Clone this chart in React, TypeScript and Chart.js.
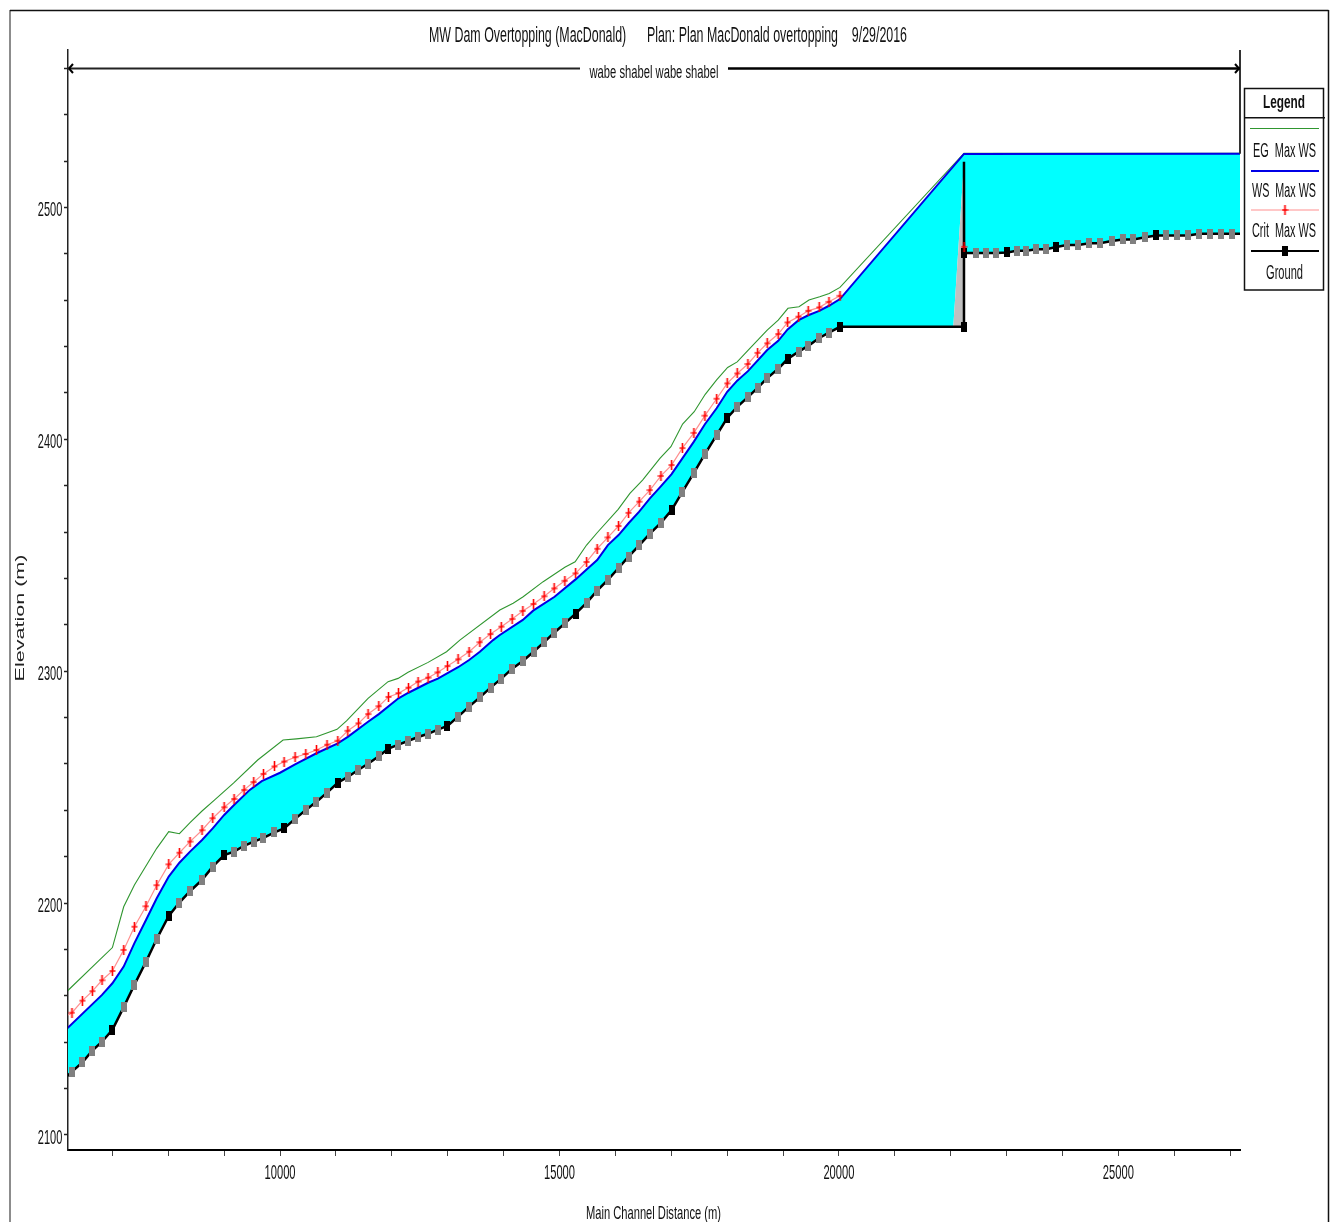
import React, { useEffect, useRef } from "react";
import { Chart, registerables } from "chart.js";

Chart.register(...registerables);

const groundStations = [6092, 6277, 6463, 6642, 6814, 7000, 7202, 7394, 7601, 7793, 8008, 8199, 8389, 8604, 8795, 9000, 9177, 9356, 9529, 9703, 9900, 10072, 10269, 10460, 10652, 10841, 11033, 11212, 11403, 11575, 11767, 11940, 12119, 12298, 12470, 12649, 12823, 12996, 13186, 13383, 13575, 13766, 13959, 14153, 14344, 14536, 14726, 14905, 15096, 15288, 15485, 15674, 15866, 16057, 16236, 16426, 16618, 16815, 17006, 17199, 17405, 17602, 17812, 18001, 18180, 18372, 18545, 18717, 18914, 19082, 19279, 19451, 19648, 19822, 20019, 22238, 22238, 22240, 22448, 22637, 22816, 23008, 23182, 23353, 23532, 23711, 23890, 24077, 24284, 24481, 24673, 24882, 25079, 25269, 25484, 25670, 25859, 26056, 26248, 26450, 26647, 26844, 27041, 27400];
const groundElevations = [2123.3, 2127.3, 2131.3, 2136.4, 2140.2, 2145.3, 2155.1, 2164.8, 2174.7, 2184.5, 2194.4, 2200.2, 2205.1, 2210, 2215.7, 2220.7, 2222.2, 2224.7, 2226.5, 2228.1, 2230.5, 2232.2, 2236.3, 2240.1, 2243.7, 2247.6, 2251.9, 2254.4, 2257.5, 2260.1, 2263.3, 2266.6, 2268.3, 2270, 2271.6, 2273, 2274.8, 2276.4, 2280.4, 2284.7, 2288.7, 2292.9, 2296.8, 2301.1, 2304.4, 2308.4, 2312.5, 2316.6, 2320.6, 2324.8, 2329.5, 2334.7, 2339.4, 2344.5, 2349.4, 2354.3, 2359.3, 2364, 2369.5, 2377.3, 2385.5, 2393.6, 2401.8, 2409.2, 2414, 2418.2, 2422.2, 2426.4, 2430.4, 2434.6, 2437.8, 2440.3, 2443.7, 2446, 2448.5, 2448.5, 2519.7, 2480.4, 2480.4, 2480.4, 2480.4, 2480.6, 2481.3, 2481.3, 2482, 2482, 2482.9, 2483.8, 2483.8, 2484.6, 2484.6, 2485.5, 2486.2, 2486.2, 2487.1, 2487.9, 2487.9, 2487.9, 2487.9, 2488.6, 2488.6, 2488.6, 2488.6, 2488.6];
const blackMarkerStations = [7000, 8008, 9000, 10072, 11033, 11940, 12996, 15288, 17006, 18001, 19082, 20019, 22238, 22240, 23008, 23890, 25670];
const damTopElevation = 2519.7;
const damToeStation = 22047;
const damStation = 22238;
const damToeElevation = 2448.5;

const critElevations = [2150, 2152.7, 2157.9, 2162, 2166.7, 2170.7, 2179.8, 2189.8, 2198.6, 2207.7, 2216.7, 2221.7, 2226.5, 2231.4, 2236.6, 2241.3, 2244.9, 2248.8, 2252.2, 2255.7, 2258.9, 2261, 2262.9, 2264.3, 2266, 2268.3, 2270, 2274.3, 2277.5, 2281.5, 2284.9, 2288.9, 2290.5, 2292.9, 2295.5, 2297.2, 2299.5, 2302.2, 2305.1, 2308.4, 2312.5, 2316, 2319.2, 2322.5, 2326, 2329, 2332.3, 2335.7, 2339, 2342.2, 2347.1, 2352.8, 2357.7, 2362.6, 2368.3, 2373.1, 2378.1, 2384.2, 2388.9, 2396.2, 2402.8, 2410.2, 2417.5, 2424.1, 2428.4, 2432.5, 2437.3, 2441.4, 2445.4, 2450.4, 2452.9, 2455.4, 2456.9, 2459.3, 2461.9];
const critDamStation = 22240;
const critDamElevation = 2483;

const wsStations = [6092, 6814, 7000, 7202, 7394, 7601, 7793, 8008, 8199, 8389, 8604, 8795, 9000, 9177, 9458, 9672, 10000, 10269, 10652, 11033, 11212, 11575, 11767, 12119, 12298, 12649, 12823, 13186, 13383, 13575, 13812, 13933, 14344, 14529, 14912, 15293, 15485, 15674, 15866, 16057, 16236, 16426, 16618, 16797, 17006, 17199, 17405, 17602, 17812, 18001, 18180, 18372, 18717, 18914, 19082, 19279, 19451, 19648, 19822, 20019, 22238, 27400];
const wsElevations = [2143.6, 2160.4, 2165.4, 2172.6, 2182.7, 2192.7, 2202.1, 2211.4, 2217.4, 2222.2, 2227.2, 2232.2, 2238, 2242.3, 2248.8, 2252.6, 2256.2, 2259.8, 2264.6, 2268.9, 2271.7, 2278.2, 2281.5, 2288.3, 2290.7, 2295, 2296.8, 2301.7, 2304.8, 2308.4, 2313.4, 2315.6, 2322.1, 2326.1, 2332.1, 2339.7, 2343.9, 2347.9, 2354.4, 2358.7, 2363.8, 2368.8, 2374.5, 2379.3, 2385, 2391.8, 2399, 2406.5, 2413.4, 2420.5, 2425.3, 2429.4, 2438.5, 2442.5, 2447.4, 2451.4, 2453.5, 2455.4, 2457.6, 2460.5, 2523.1, 2523.2];

const egStations = [6092, 7000, 7202, 7394, 7793, 8008, 8199, 8389, 8604, 8830, 9171, 9600, 10054, 10294, 10652, 11020, 11189, 11575, 11933, 12112, 12291, 12649, 12979, 13217, 13933, 14171, 14350, 14708, 15096, 15280, 15485, 15674, 16050, 16260, 16487, 16797, 16994, 17203, 17411, 17608, 17812, 18009, 18180, 18377, 18717, 18914, 19088, 19285, 19464, 19656, 19827, 20019, 22238, 27400];
const egElevations = [2159.7, 2180.8, 2198.4, 2207.8, 2223.6, 2230.8, 2229.9, 2234.7, 2239.7, 2244.5, 2251.8, 2261.7, 2270.3, 2270.8, 2271.7, 2274.9, 2278.6, 2288.3, 2295.5, 2296.9, 2299.5, 2303.8, 2308.4, 2313.4, 2326.4, 2329.3, 2332.1, 2338.6, 2344.8, 2347.2, 2354.4, 2359.7, 2369.8, 2376.7, 2382.4, 2391.8, 2396.8, 2406.6, 2411.9, 2419.4, 2425.6, 2431, 2433.4, 2438.5, 2447.1, 2451.4, 2456.5, 2457.2, 2460.1, 2461.5, 2462.9, 2465.5, 2523.4, 2523.4];

const xTickValues = [7000, 8000, 9000, 10000, 11000, 12000, 13000, 14000, 15000, 16000, 17000, 18000, 19000, 20000, 21000, 22000, 23000, 24000, 25000, 26000, 27000];
const xLabelledTicks = [10000, 15000, 20000, 25000];
const yLabelledTicks = [2100, 2200, 2300, 2400, 2500];

const titleText = "MW Dam Overtopping (MacDonald)      Plan: Plan MacDonald overtopping    9/29/2016";
const reachText = "wabe shabel wabe shabel";
const xAxisTitle = "Main Channel Distance (m)";
const yAxisTitle = "Elevation (m)";
const legendTitle = "Legend";
const legendLabels = ["EG  Max WS", "WS  Max WS", "Crit  Max WS", "Ground"];

const COLORS = {
  water: "#00ffff",
  dam: "#c0c0c0",
  eg: "#2f962f",
  ws: "#0000e6",
  critLine: "#ff8f8f",
  crit: "#ff0000",
  ground: "#000000",
  station: "#808080",
};

const FONT = '"Liberation Sans", Arial, sans-serif';

function pairs(xs: number[], ys: (number | null)[]) {
  return xs.map((x, i) => ({ x, y: ys[i] }));
}

function rectMarker(color: string) {
  const c = document.createElement("canvas");
  c.width = 6;
  c.height = 10;
  const g = c.getContext("2d")!;
  g.fillStyle = color;
  g.fillRect(0, 0, 6, 10);
  return c;
}

function plusMarker(color: string) {
  const c = document.createElement("canvas");
  c.width = 7;
  c.height = 10;
  const g = c.getContext("2d")!;
  g.fillStyle = color;
  g.fillRect(0.5, 4.3, 6, 1.4);
  g.fillRect(2.7, 0, 1.6, 10);
  return c;
}

function fitted(ctx: CanvasRenderingContext2D, text: string, cx: number, cy: number, width: number, size: number, weight = "normal") {
  ctx.font = `${weight} ${size}px ${FONT}`;
  ctx.textAlign = "center";
  ctx.textBaseline = "middle";
  ctx.fillStyle = "#111";
  ctx.fillText(text, cx, cy, width);
}

function seg(ctx: CanvasRenderingContext2D, x1: number, y1: number, x2: number, y2: number, color: string, w: number) {
  ctx.strokeStyle = color;
  ctx.lineWidth = w;
  ctx.beginPath();
  ctx.moveTo(x1, y1);
  ctx.lineTo(x2, y2);
  ctx.stroke();
}

const decor = {
  id: "decor",
  beforeDraw(chart: any) {
    const ctx = chart.ctx;
    ctx.save();
    ctx.fillStyle = "#fff";
    ctx.fillRect(0, 0, chart.width, chart.height);
    ctx.restore();
  },
  afterDraw(chart: any) {
    const ctx: CanvasRenderingContext2D = chart.ctx;
    const { left, right, top } = chart.chartArea;
    const xs = chart.scales.x;
    const ys = chart.scales.y;
    ctx.save();

    // outer frame
    seg(ctx, 10, 10, 10, 1222, "#666", 1.5);
    seg(ctx, 10, 10.5, 1328.5, 10.5, "#111", 1.5);
    seg(ctx, 1328.5, 10, 1328.5, 1222, "#111", 1.5);

    // right axis stub above the water surface
    seg(ctx, right, top, right, ys.getPixelForValue(wsElevations[wsElevations.length - 1]), "#333", 2);

    // reach arrow
    const ay = 68.5;
    seg(ctx, left, ay, 580, ay, "#222", 1.8);
    seg(ctx, 728, ay, right, ay, "#000", 2.5);
    seg(ctx, left + 5, ay - 4.5, left + 1, ay, "#000", 2);
    seg(ctx, left + 5, ay + 4.5, left + 1, ay, "#000", 2);
    seg(ctx, right - 5, ay - 4.5, right - 1, ay, "#000", 2);
    seg(ctx, right - 5, ay + 4.5, right - 1, ay, "#000", 2);
    fitted(ctx, reachText, 654, 73.5, 129, 18);

    // title
    fitted(ctx, titleText, 668, 36, 478, 22);

    // tick labels, from the scales' own ticks
    for (const t of ys.ticks) {
      if (yLabelledTicks.includes(t.value)) {
        fitted(ctx, String(t.value), 50, ys.getPixelForValue(t.value) + 3, 24.5, 21);
      }
    }
    for (const t of xs.ticks) {
      if (xLabelledTicks.includes(t.value)) {
        fitted(ctx, String(t.value), xs.getPixelForValue(t.value), 1173, 31, 21);
      }
    }

    // axis titles
    fitted(ctx, xAxisTitle, 653.5, 1214, 135, 19);
    ctx.save();
    ctx.translate(20.5, 618);
    ctx.rotate(-Math.PI / 2);
    ctx.font = `12.5px ${FONT}`;
    const natural = ctx.measureText(yAxisTitle).width;
    ctx.scale(127 / natural, 1);
    ctx.textAlign = "center";
    ctx.textBaseline = "middle";
    ctx.fillStyle = "#222";
    ctx.fillText(yAxisTitle, 0, 0);
    ctx.restore();

    // legend
    const lx1 = 1244.5, lx2 = 1323.5, ly1 = 88.5, ly2 = 290;
    ctx.fillStyle = "#fff";
    ctx.fillRect(lx1, ly1, lx2 - lx1, ly2 - ly1);
    ctx.strokeStyle = "#111";
    ctx.lineWidth = 1.5;
    ctx.strokeRect(lx1, ly1, lx2 - lx1, ly2 - ly1);
    seg(ctx, lx1, 117.7, 1325, 117.7, "#111", 1.5);
    fitted(ctx, legendTitle, 1284, 103, 42, 19, "bold");

    seg(ctx, 1250, 128.5, 1319, 128.5, COLORS.eg, 1);
    fitted(ctx, legendLabels[0], 1284.5, 151, 63, 20);
    seg(ctx, 1251, 171, 1319, 171, COLORS.ws, 2);
    fitted(ctx, legendLabels[1], 1284, 191, 64, 20);
    seg(ctx, 1251, 210, 1319, 210, COLORS.critLine, 1);
    ctx.drawImage(plusMarker(COLORS.crit), 1281.5, 205);
    fitted(ctx, legendLabels[2], 1284, 231, 64, 20);
    seg(ctx, 1251, 251, 1319, 251, COLORS.ground, 2);
    ctx.drawImage(rectMarker(COLORS.ground), 1282, 246);
    fitted(ctx, legendLabels[3], 1284.5, 273, 37, 20);

    ctx.restore();
  },
};

export default function App() {
  const ref = useRef<HTMLCanvasElement>(null);

  useEffect(() => {
    const gray = rectMarker(COLORS.station);
    const black = rectMarker(COLORS.ground);
    const plus = plusMarker(COLORS.crit);

    const groundPts = pairs(groundStations, groundElevations);
    const wsPts = pairs(wsStations, wsElevations);
    const damIndex = wsStations.indexOf(damStation);
    const firstBelowDam = groundStations.indexOf(damStation);
    const tailwaterStart = groundStations.indexOf(critDamStation);

    const waterBelowDam = [
      ...wsPts.slice(0, damIndex + 1),
      { x: damStation, y: damTopElevation },
      { x: damToeStation, y: damToeElevation },
      ...groundPts.slice(0, firstBelowDam).reverse(),
    ];
    const waterAboveDam = [
      ...wsPts.slice(damIndex),
      ...groundPts.slice(tailwaterStart).reverse(),
    ];
    const damFace = [
      { x: damToeStation, y: damToeElevation },
      { x: damStation, y: damTopElevation },
      { x: damStation, y: damToeElevation },
    ];

    const critPts = [
      ...pairs(groundStations.slice(0, critElevations.length), critElevations),
      { x: critDamStation - 1, y: null },
      { x: critDamStation, y: critDamElevation },
    ];

    const polygon = (data: any[], color: string) => ({
      data,
      showLine: true,
      fill: "shape",
      backgroundColor: color,
      borderWidth: 0,
      pointRadius: 0,
    });

    const chart = new Chart(ref.current!, {
      type: "scatter",
      data: {
        datasets: [
          {
            label: "Crit Max WS",
            data: critPts,
            showLine: true,
            borderColor: COLORS.critLine,
            borderWidth: 1.2,
            pointRadius: 3,
            pointStyle: plus,
          },
          {
            label: "Ground",
            data: groundPts,
            showLine: true,
            borderColor: COLORS.ground,
            borderWidth: 2.5,
            pointRadius: (c: any) => (groundElevations[c.dataIndex] === damTopElevation ? 0 : 3),
            pointStyle: (c: any) => (blackMarkerStations.includes(groundStations[c.dataIndex]) ? black : gray),
          },
          {
            label: "WS Max WS",
            data: wsPts,
            showLine: true,
            borderColor: COLORS.ws,
            borderWidth: 2,
            pointRadius: 0,
          },
          {
            label: "EG Max WS",
            data: pairs(egStations, egElevations),
            showLine: true,
            borderColor: COLORS.eg,
            borderWidth: 1.1,
            pointRadius: 0,
          },
          polygon(damFace, COLORS.dam),
          polygon(waterBelowDam, COLORS.water),
          polygon(waterAboveDam, COLORS.water),
        ],
      } as any,
      options: {
        animation: false,
        responsive: false,
        events: [],
        layout: { padding: { top: 50, right: 94, left: 0, bottom: 0 } },
        plugins: { legend: { display: false }, title: { display: false }, tooltip: { enabled: false } },
        scales: {
          x: {
            type: "linear",
            min: 6205.5,
            max: 27177,
            afterFit: (s: any) => { s.height = 72; },
            afterBuildTicks: (s: any) => { s.ticks = xTickValues.map((value) => ({ value })); },
            border: { color: "#000", width: 2 },
            grid: { drawOnChartArea: false, drawTicks: true, tickLength: 6, tickColor: "#444", tickWidth: 1 },
            ticks: { display: false, autoSkip: false },
          },
          y: {
            type: "linear",
            min: 2093.5,
            max: 2567.9,
            afterFit: (s: any) => { s.width = 68; },
            border: { color: "#222", width: 1.5 },
            grid: { drawOnChartArea: false, drawTicks: true, tickLength: 4, tickColor: "#222", tickWidth: 1.5 },
            ticks: { display: false, stepSize: 20, includeBounds: false, autoSkip: false },
          },
        },
      } as any,
      plugins: [decor],
    });
    return () => chart.destroy();
  }, []);

  return (
    <div style={{ position: "absolute", left: 0, top: 0, width: 1334, height: 1222, background: "#fff" }}>
      <canvas ref={ref} width={1334} height={1222} style={{ display: "block", width: 1334, height: 1222 }} />
    </div>
  );
}
